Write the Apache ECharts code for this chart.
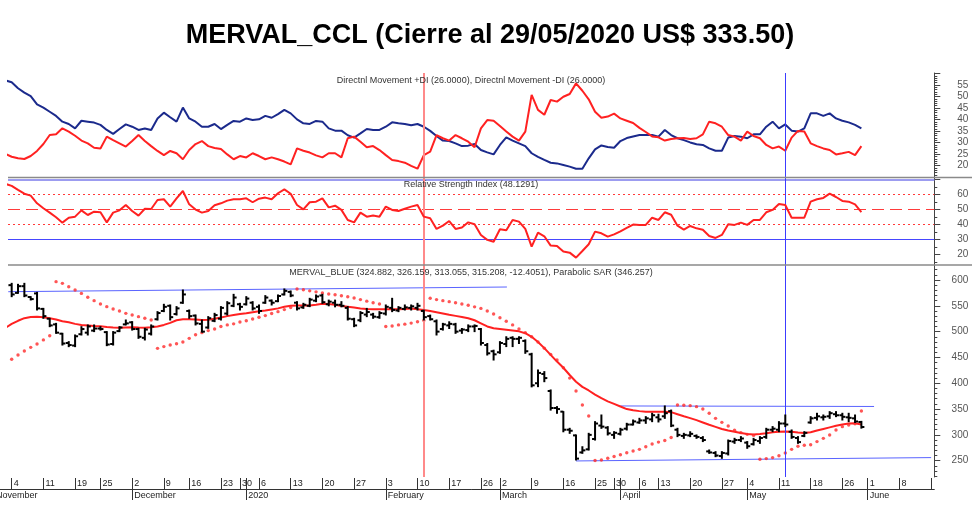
<!DOCTYPE html>
<html><head><meta charset="utf-8">
<script src="https://cdn.jsdelivr.net/npm/echarts@6/dist/echarts.min.js"></script>
<style>html,body{margin:0;padding:0;background:#fff}#c{width:980px;height:513px}</style>
</head><body><div id="c"></div>
<script>
// trading days shown on the time axis
const tradingMonths = [
 ['2019-11', [1,4,5,6,7,8,11,12,13,14,15,19,20,21,22,25,26,27,28,29]],
 ['2019-12', [2,3,4,5,6,9,11,12,13,16,17,18,19,20,23,26,27,30]],
 ['2020-01', [2,3,6,7,8,9,10,13,14,15,16,17,20,21,22,23,24,27,28,29,30,31]],
 ['2020-02', [3,4,5,6,7,10,11,12,13,14,17,18,19,20,21,26,27,28]],
 ['2020-03', [2,3,4,5,6,9,10,11,12,13,16,17,18,19,20,25,26,27,30]],
 ['2020-04', [1,2,3,6,7,8,13,14,15,16,17,20,21,22,23,24,27,28,29,30]],
 ['2020-05', [4,5,6,7,8,11,12,13,14,15,18,19,20,21,22,26,27,28,29]],
 ['2020-06', [1,2,3,4,5,8,9,10,11,12,15]]
];
const monthNames = ['January','February','March','April','May','June','July','August','September','October','November','December'];

const dmiBlue = [57,56.2,53.6,51.7,50.2,46.6,45.2,43.4,41.6,39.1,
 38.1,36.2,39.5,39.1,38.7,37.7,35.5,33.8,35.9,37.9,
 36.9,35.5,36.1,35.5,40.5,43,41,39.1,45.2,40.5,
 39.1,36.9,36.9,38.1,35.9,37.7,39.4,39.1,40.5,39.8,
 40.1,41.6,40.8,42.4,44.2,42.7,40.1,38.4,38.1,39.4,
 39.1,36.2,35.2,35.2,33.2,32.2,34,35.9,35.5,35.5,
 36.9,38.8,38.4,38.1,37.5,38.1,36.9,35.1,32.9,30.9,
 30.7,29.7,28.5,28.7,29.4,26.8,25.8,24.9,29,32.3,
 30.9,29.7,28.5,25.4,23.8,22.5,21.3,21,20.3,19.6,
 18.7,18.7,23.2,27.1,28.8,28.1,27.8,30.7,32,32.7,
 33.3,33.3,33.3,32.6,35.5,33.3,31.9,31.1,30.1,29.3,
 29,27.5,26.5,26.5,32.2,32.9,32.6,31.9,33.6,33.6,
 36.9,39.1,36.2,37.9,35.2,34.8,36.2,42.7,42.7,41.6,
 42.7,40.5,39.5,38.8,37.7,36.2];
const dmiRed = [25.1,23.9,23.2,22.9,24.2,26.4,29.4,33.3,33.6,36.2,
 34.8,33,30.9,29.7,27.8,27.5,32.6,31.1,29.7,28.3,
 30.7,33.3,30.7,28.5,26.4,24.6,26.4,25.4,22.8,26.8,
 29.4,30.7,28.5,27.7,27.2,24.9,22.8,24.2,23.6,25.4,
 24.2,22.8,23.6,22.8,21.8,20.6,27.5,26.5,25.7,24.5,
 23.6,25.4,25.4,23.6,31.9,32.6,30.4,28,28.5,26.8,
 24.6,22.5,22,21.3,19.9,18.7,24.6,26.1,33.3,31.9,
 30.9,33.3,31.9,30.4,28,36.2,39.8,39.5,37.2,34.8,
 32.6,30.9,34.8,50.7,44.2,42.1,48.5,47.8,49.9,51.1,
 55.7,52.5,48.8,43.4,40.8,41.3,42.6,40.5,39.5,38.5,
 36.4,34.6,32.7,32.3,30.9,31.6,31.9,32,31.6,31.9,
 33.6,39.1,38.4,36.9,33.3,32.6,30.9,34.8,32.9,31.9,
 29,27.5,28.3,26.5,32.2,35.1,34.8,29.7,28.5,27.5,
 26.8,24.9,25.4,26,24.6,28.5];
const rsi = [67,65.6,62.9,60.4,59.1,54,50.7,47.8,44.7,41.1,
 44.4,45.1,49.3,46.2,48.4,48,41.3,47.8,49.3,52.9,
 48.9,45.8,50.4,50.2,56.2,56.7,51.8,57.3,62.2,53.3,
 49.8,47.8,48.9,52.7,54,55.8,56.7,56.7,57.3,54.7,
 57.1,57.8,56.7,60.7,63.3,60.4,52.9,50,54.7,55.1,
 57.3,51.3,52.4,49.6,42.9,41.3,47.8,45.1,45.8,45.1,
 51.8,49.6,48.9,50.4,51.8,52.9,45.1,44,36.9,39.1,
 42.2,36.9,37.8,41.3,40,32.9,29.6,28.4,36.7,36,
 42.9,41.8,36.9,25.1,34.4,32,25.8,25.6,21.8,21.1,
 17.8,22.2,26.7,35.1,34,31.8,33.3,35.3,37.6,39.8,
 39.6,39.6,44.4,42.9,48,46.4,39.1,36.4,38.9,37.3,
 36.4,32.2,30.9,32.9,40,39.6,41.1,39.6,42.9,42.9,
 48,49.6,53.6,52.9,44.4,44.4,44.4,55.1,56.7,57.6,
 60.4,58.2,55.6,55.1,53.3,48.1291];
const sma = [507,515,521,526,528.5,529,528,526,523.5,520,
 518,515,513,512,511,510.5,509,508,507.5,508,
 508.5,508,507.7,508.5,510,513,517,522,524,524,
 523.5,522.5,523,525,527.5,530,532,534,535.5,537.5,
 539.5,541,543,545,548,550,550.5,550.5,550.5,552,
 554,553.5,552,549.5,548,546.5,545,544,543.5,543.2,
 543.2,543.2,543.5,544,545,543.5,542,540,537.5,535,
 532.5,530.5,528.5,526,522,516,510,506.5,505,503.5,
 502,500.5,497,490,480,468,455,442,430,416,
 403,393,386,378,371,365,360,355,350,347.5,
 346,345,345,345,345,344,340,336,332.5,328.5,
 324,319.5,315.5,311.5,308.5,306,303.5,301.5,300.5,301.5,
 303,305,306,306.5,306,304.5,303.5,305,308.5,311.5,
 314.5,317.5,320,322,322.5,320];
const sar = [440,446.4,454.7,462.5,469.5,476,484,492,596.8,593.5,
 587,580.6,574,566.5,560,553.5,548.4,543.8,540,535.4,
 532.2,529,525.8,522.5,467.6,471,474,476.5,480,487,
 494,498,502,505,510,513,515,518.6,521,524.5,
 527.7,531,535,538.7,542.6,546.5,582.6,581,579,577,
 575,573,571.5,569.5,567.5,565,562,559,556,553.5,
 510,511,513,514.5,516.5,519,521.5,564.5,562,560,
 558,556,553.5,551,548,545,540,534,527,520,
 513,505,498,490,480,468,456,445,430,410,
 385,358,336.6,250.5,251.4,254.6,258,261.5,265.5,268.8,
 272,277,282.4,286,289,295,358,357.5,356.6,354.7,
 350,341.8,332,324.3,317.2,309,304.3,301,299,252.7,
 254,256,259.5,265,272,278,280,281,287,293.3,
 299.8,309.5,315.9,319.2,321.5,346.257];
const open = [580,590,575,588,567,574,544,525,514,496,
 478,473,495,498,502,506,499,476,501,514,
 518,505,488,496,524,540,550,534,556,540,
 531,515,508,521,525,535,550,553,553,556,
 548,556,560,559,572,577,556,547,550,560,
 570,553,556,552,546,524,522,533,533,528,
 535,546,541,544,546,546,540,530,520,505,
 512,514,502,503,510,505,474,462,460,476,
 488,486,482,456,400,418,385,352,345,310,
 299,266,272,292,318,314,300,302,312,320,
 324,328,330,334,336,346,310,298,299,298,
 294,268,265,259,264,287,290,285,282,288,
 296,310,310,322,306,294,298,324,333,334,
 336,340,338,334,332,324.882];
const high = [595,593.5,591.6,593.5,567.7,576,545,525.8,516,496.7,
 480.6,493.5,509.6,512.9,512.9,509.6,500,500,509.6,522.5,
 519.3,506.4,506.4,513,538.7,552.9,551.6,548.4,580.6,541.9,
 532.2,522.5,529,535.4,548.4,558,572.2,554.8,567.7,558,
 551.6,569.7,561.3,571,582.6,578.7,558,554.8,564.5,571,
 572.2,561,561,558,548.4,525.8,538.7,545,535.4,538.7,
 551.6,564.5,548.4,551.6,551.6,554.8,541.9,532,522.5,516,
 519,516,506,513,513,506,477,464,480.6,490,
 490,490,484,458,425.7,422.5,387,354.7,345,312.7,
 299.8,277,303,325.6,338.5,315.9,306.2,312.7,322.4,328.8,
 332.1,335.3,341.8,340,356,348,312.7,303,306,299.8,
 296.6,270.7,267.5,267.5,290,293.3,296.6,287,293.3,296.6,
 312.7,316,325.6,338.5,309.5,296.6,306.2,335.3,341.8,338.5,
 345,345,341.8,341.8,338.5,326.159];
const low = [575,567.7,574.2,567.7,561.3,541.9,525.8,509.6,496.7,474,
 470.9,470.9,493.5,493.5,500,503,472.8,474,500,513,
 503,487,483.8,493.5,522.5,538.7,522.5,532.2,554.8,525.8,
 512.9,499,506.4,519.3,522.5,532.2,548.4,541.9,551.6,541.9,
 535.4,554.8,551.6,558,571,567.7,541.9,545.1,548.4,558,
 554.8,550,548,548,522.5,509.6,519.3,529,525.8,525.8,
 532.2,538.7,538.7,541.9,541.9,541.9,522.5,522.5,493.5,503,
 506,496.7,496.7,500,500,474,454.7,445,458,471,
 471,477,458,393,393.4,403,348,341.8,306,303,
 251.4,264.3,270.7,290,312.7,299.8,293.3,299.8,309.5,319.2,
 322.4,322.4,325.6,325,332,316,296.6,293.3,296.6,293.3,
 287,264.3,257.8,254.6,261.1,283.6,287,274,280.4,283.6,
 293.3,306.2,306.2,316,293.3,283.6,296.6,322.4,328.8,328.8,
 332,335.3,328.8,325.6,324,313.055];
const close = [590,572,588,570,563,545,530,512,498,477,
 474,491,505,510,506,505,475,498,508,516,
 505,490,504,510,536,548,528,545,572,530,
 516,500,526,532,546,555,566,548,564,545,
 540,566,556,569,579,570,545,552,562,568,
 557,558,552,550,525,512,536,538,529,536,
 548,542,546,547,549,550,528,524,500,514,
 515,500,504,510,511,478,458,456,478,486,
 486,488,462,396,420,410,352,350,310,308,
 254,270,300,322,316,303,304,310,320,326,
 328,332,338,330,342,318,300,300,302,296,
 290,266,260,265,288,290,293,278,290,294,
 310,312,322,320,296,286,304,332,336,335,
 342,338,335,333,326,315.208];
// drawn trend lines: [dayIndex, price]
const trendTop = [[0.46,577.3],[79.1,586.4]];
const trendResist = [[97,356],[137,355]];
const trendSupport = [[90,249.5],[146,256]];
const verticalMarks = [66, 123];
const dmiTickLabels = [20,25,30,35,40,45,50,55];
const rsiTickLabels = [20,30,40,50,60];
const priceTickLabels = [250,300,350,400,450,500,550,600];
const rsiLevels = [70,60,50,40,30];

// ---------- derived ----------
const dates = [];
tradingMonths.forEach(([ym, ds]) => ds.forEach(d => dates.push(ym + '-' + String(d).padStart(2,'0'))));
const X_MIN = 0.42, X_MAX = 146.5;
function dayNum(s){ const d = new Date(s + 'T00:00:00Z'); return d.getTime()/86400000 - ((d.getUTCDay()+6)%7); }
const weekStarts = [], monthStarts = [];
dates.forEach((s,i) => {
  if (i === 0 || dayNum(s) !== dayNum(dates[i-1])) weekStarts.push(i);
  if (i === 0 || s.slice(0,7) !== dates[i-1].slice(0,7)) monthStarts.push(i);
});
const inRange = v => v >= X_MIN && v <= X_MAX;
const dayTicks = Array.from(new Set(weekStarts.concat(monthStarts))).filter(inRange).sort((a,b)=>a-b);
const dayLabels = weekStarts.filter(v => inRange(v) && v <= dates.length - 3);
const monthTicks = monthStarts.filter(inRange);
const range = (a,b,s) => { const r=[]; for (let v=a; v<=b+1e-9; v+=s) r.push(+v.toFixed(4)); return r; };

const pairs = arr => arr.map((v,i) => [i, v]);
const ohlc = open.map((o,i) => [i, o, high[i], low[i], close[i]]);

const FONT = '"Liberation Sans", Arial, sans-serif';
const GRID_L = 8, GRID_R = 45.7;
const grids = [
  {left: GRID_L, right: GRID_R, top: 73, height: 105},
  {left: GRID_L, right: GRID_R, top: 178, height: 88},
  {left: GRID_L, right: GRID_R, top: 266, height: 211}
];
function hiddenX(g){ return {type:'value', gridIndex:g, min:X_MIN, max:X_MAX, show:false}; }
const xAxes = [hiddenX(0), hiddenX(1), hiddenX(2),
  {type:'value', gridIndex:2, min:X_MIN, max:X_MAX, position:'bottom', offset:12,
   axisLine:{show:true, onZero:false, lineStyle:{color:'#333', width:1}},
   axisTick:{show:true, inside:true, length:11, customValues: dayTicks, lineStyle:{color:'#333', width:1}},
   axisLabel:{show:true, inside:true, customValues: dayLabels, margin:5, align:'left', verticalAlign:'middle', padding:[0,0,0,2],
     color:'#222', fontSize:9, fontFamily:FONT, formatter: v => String(parseInt(dates[Math.round(v)].slice(8),10))},
   splitLine:{show:false}},
  {type:'value', gridIndex:2, min:X_MIN, max:X_MAX, position:'bottom', offset:12,
   axisLine:{show:false},
   axisTick:{show:true, inside:false, length:11, customValues: monthTicks, lineStyle:{color:'#333', width:1}},
   axisLabel:{show:true, customValues: monthTicks, margin:7, align:'left', verticalAlign:'middle', padding:[0,0,0,2],
     color:'#222', fontSize:9, fontFamily:FONT,
     formatter: v => { const s = dates[Math.round(v)]; const m = parseInt(s.slice(5,7),10)-1; return m === 0 ? s.slice(0,4) : monthNames[m]; }},
   splitLine:{show:false}}
];
function yPair(g, min, max, labels, majors, minors){
  return [
    {type:'value', gridIndex:g, position:'right', min, max,
     axisLine:{show:true, lineStyle:{color:'#444', width:1}},
     axisTick:{show:true, inside:false, length:6, customValues: majors, lineStyle:{color:'#444'}},
     axisLabel:{show:true, customValues: labels, align:'right', margin:34, color:'#555', fontSize:10, fontFamily:FONT},
     splitLine:{show:false}},
    {type:'value', gridIndex:g, position:'right', min, max,
     axisLine:{show:false},
     axisTick:{show:true, inside:false, length:3, customValues: minors, lineStyle:{color:'#444'}},
     axisLabel:{show:false}, splitLine:{show:false}}
  ];
}
const yAxes = [].concat(
  yPair(0, 14.67, 60.2, dmiTickLabels, range(15,60,5), range(15,60,1)),
  yPair(1, 12.2, 70.87, rsiTickLabels, range(20,70,10), range(15,65,10)),
  yPair(2, 218.4, 627.1, priceTickLabels, range(250,600,50), range(220,620,10))
);
const vMarks = {silent:true, symbol:['none','none'], label:{show:false}, animation:false,
  data: verticalMarks.map((v,k) => ({xAxis: v, lineStyle: k === 0 ? {color:'#ff8a8a', width:2, type:'solid'} : {color:'#3c3cff', width:1, type:'solid'}}))};
const rsiMarkStyles = {70:{color:'#9c9cf0', width:2, type:'solid'}, 60:{color:'#ff3b3b', width:1, type:[2,3]},
  50:{color:'#ff3b3b', width:1.2, type:[12,6]}, 40:{color:'#ff3b3b', width:1, type:[2,3]}, 30:{color:'#4646ff', width:1, type:'solid'}};

const lineBase = {type:'line', showSymbol:false, symbol:'none', animation:false, silent:true};
const series = [
  Object.assign({}, lineBase, {xAxisIndex:0, yAxisIndex:0, data:pairs(dmiBlue), lineStyle:{color:'#1b2a8c', width:2}, markLine:vMarks}),
  Object.assign({}, lineBase, {xAxisIndex:0, yAxisIndex:0, data:pairs(dmiRed), lineStyle:{color:'#ff2121', width:2}}),
  Object.assign({}, lineBase, {xAxisIndex:1, yAxisIndex:2, data:pairs(rsi), lineStyle:{color:'#ff2121', width:2}, z:5,
    markLine:{silent:true, symbol:['none','none'], label:{show:false}, animation:false,
      data: rsiLevels.map(v => ({yAxis:v, lineStyle: rsiMarkStyles[v]})).concat(vMarks.data)}}),
  Object.assign({}, lineBase, {xAxisIndex:2, yAxisIndex:4, data:trendTop, lineStyle:{color:'#5a64ff', width:1}}),
  Object.assign({}, lineBase, {xAxisIndex:2, yAxisIndex:4, data:trendResist, lineStyle:{color:'#5a64ff', width:1}}),
  Object.assign({}, lineBase, {xAxisIndex:2, yAxisIndex:4, data:trendSupport, lineStyle:{color:'#5a64ff', width:1}, markLine:vMarks}),
  Object.assign({}, lineBase, {xAxisIndex:2, yAxisIndex:4, data:pairs(sma), lineStyle:{color:'#ff2121', width:2}, z:3}),
  {type:'scatter', xAxisIndex:2, yAxisIndex:4, data:pairs(sar), symbol:'circle', symbolSize:3.4,
   itemStyle:{color:'#ff2a2a'}, animation:false, silent:true, z:4},
  {type:'custom', xAxisIndex:2, yAxisIndex:4, data:ohlc, clip:true, animation:false, silent:true, z:6,
   encode:{x:0, y:[1,2,3,4]},
   renderItem:(params, api) => {
     const x = api.value(0);
     const pO = api.coord([x, api.value(1)]), pH = api.coord([x, api.value(2)]);
     const pL = api.coord([x, api.value(3)]), pC = api.coord([x, api.value(4)]);
     const st = {stroke:'#000', lineWidth:2};
     return {type:'group', children:[
       {type:'line', shape:{x1:pH[0], y1:pH[1]-0.5, x2:pL[0], y2:pL[1]+0.5}, style:st},
       {type:'line', shape:{x1:pO[0]-3, y1:pO[1], x2:pO[0], y2:pO[1]}, style:st},
       {type:'line', shape:{x1:pC[0], y1:pC[1], x2:pC[0]+3, y2:pC[1]}, style:st}
     ]};
   }}
];
const txt = (x, y, text, size, weight, align, color, family) => ({type:'text', x, y, silent:true, z:50,
  style:{text, fontSize:size, fontWeight:weight||'normal', fontFamily:family||FONT, fill:color||'#333',
         align:align||'center', verticalAlign:'middle', textAlign:align||'center', textVerticalAlign:'middle'}});
const hline = (x1, x2, y, color, w) => ({type:'line', silent:true, z:40, shape:{x1, y1:y, x2, y2:y}, style:{stroke:color, lineWidth:w}});
const graphic = [
  txt(490, 36, 'MERVAL_CCL (Cierre al 29/05/2020 US$ 333.50)', 27, 'bold', 'center', '#000', '"Liberation Sans", Arial, sans-serif'),
  txt(471, 81, 'Directnl Movement +DI (26.0000), Directnl Movement -DI (26.0000)', 9),
  txt(471, 185, 'Relative Strength Index (48.1291)', 9),
  txt(471, 273, 'MERVAL_BLUE (324.882, 326.159, 313.055, 315.208, -12.4051), Parabolic SAR (346.257)', 9),
  txt(-4, 496, 'November', 9, 'normal', 'left', '#222'),
  hline(8, 972, 177.5, '#8a8a8a', 1.5),
  hline(8, 972, 265, '#8a8a8a', 1.5),
  hline(0, 8, 489.5, '#333', 1)
];
const chart = echarts.init(document.getElementById('c'), null, {renderer:'canvas'});
chart.setOption({animation:false, backgroundColor:'#fff', grid:grids, xAxis:xAxes, yAxis:yAxes, series, graphic});
</script></body></html>
